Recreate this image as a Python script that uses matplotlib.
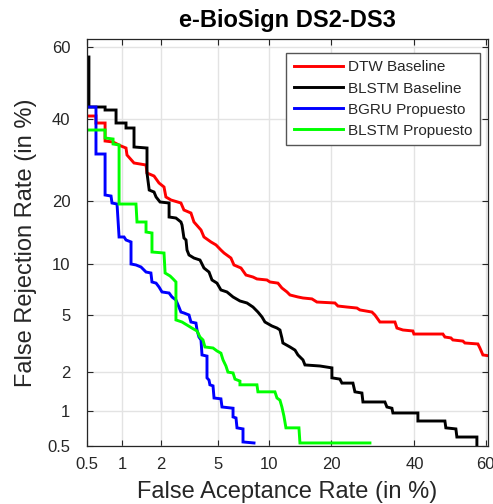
import numpy as np
import matplotlib
matplotlib.use("Agg")
import matplotlib.pyplot as plt
from matplotlib.ticker import NullLocator, FixedLocator, FixedFormatter
from statistics import NormalDist

plt.rcParams['font.family'] = ['Liberation Sans', 'DejaVu Sans']

title = "e-BioSign DS2-DS3"
xlabel = "False Aceptance Rate (in %)"
ylabel = "False Rejection Rate (in %)"
tick_values = [0.5, 1, 2, 5, 10, 20, 40, 60]
tick_labels = ["0.5", "1", "2", "5", "10", "20", "40", "60"]
series_names = ["DTW Baseline", "BLSTM Baseline", "BGRU Propuesto", "BLSTM Propuesto"]
series_colors = ["#ff0000", "#000000", "#0000ff", "#00ff00"]

dtw_far = [0.5, 0.600, 0.600, 0.719, 0.719, 0.84, 0.979, 1.075, 1.095, 1.247, 1.55, 1.577,
           1.785, 1.946, 2.12, 2.19, 2.39, 2.81, 2.95, 3.30, 3.46, 3.86, 4.04, 4.49, 4.84,
           5.20, 5.44, 6.00, 6.26, 6.90, 7.38, 8.10, 8.53, 9.69, 10.06, 11.10, 11.64, 12.36,
           12.80, 14.02, 14.83, 16.35, 17.24, 20.70, 21.31, 23.21, 25.43, 26.12, 28.96, 29.69,
           30.93, 34.78, 35.30, 36.89, 39.59, 39.87, 47.96, 48.53, 50.23, 50.79, 53.62, 54.18,
           57.82, 58.37, 59.2, 61.4, 61.9]
dtw_frr = [40.69, 40.69, 38.78, 38.78, 33.99, 33.73, 32.70, 32.19, 30.43, 28.48, 28.00, 26.12,
           25.43, 23.87, 23.0, 20.9, 20.29, 19.7, 18.35, 17.79, 16.18, 14.83, 13.71, 12.95, 12.51,
           11.78, 11.37, 10.70, 9.82, 9.45, 8.64, 8.42, 8.21, 8.10, 7.89, 7.77, 7.28, 6.90,
           6.62, 6.44, 6.35, 6.27, 6.00, 5.92, 5.67, 5.59, 5.51, 5.36, 5.20, 4.98,
           4.49, 4.49, 4.10, 3.98, 3.92, 3.74, 3.74, 3.57, 3.52, 3.41, 3.35, 3.25,
           3.20, 3.0, 2.68, 2.63, 2.47]

blstm_base_far = [0.52, 0.52, 0.719, 0.719, 0.890, 0.890, 1.075, 1.075, 1.247, 1.247, 1.577, 1.577,
                  1.64, 1.785, 1.85, 1.98, 2.31, 2.31, 2.59, 2.81, 2.86, 2.95, 3.05, 3.10, 3.20,
                  3.46, 3.80, 3.86, 4.04, 4.36, 4.56, 4.91, 5.20, 5.67, 6.18, 6.80, 7.48, 8.10,
                  8.64, 9.10, 9.45, 10.31, 10.97, 11.37, 11.64, 11.78, 12.80, 13.56, 14.02, 14.83,
                  15.16, 17.79, 20.09, 20.09, 21.72, 22.14, 24.53, 24.98, 26.58, 26.82, 32.19,
                  32.70, 33.99, 34.25, 40.97, 40.97, 48.53, 48.8, 51.64, 51.92, 57.54, 57.54]
blstm_base_frr = [57.26, 43.19, 43.19, 42.35, 42.35, 38.78, 38.78, 37.43, 37.43, 32.45, 32.19, 26.12,
                  22.35, 21.93, 20.9, 19.9, 19.7, 17.06, 16.88, 16.18, 15.66, 13.56, 13.25, 11.78, 11.10,
                  10.70, 10.44, 10.19, 9.45, 8.98, 8.10, 7.77, 7.09, 6.90, 6.44, 6.09, 5.92, 5.59,
                  5.20, 4.84, 4.49, 4.23, 4.10, 3.98, 3.52, 3.25, 3.05, 2.90, 2.68, 2.47,
                  2.27, 2.23, 2.16, 1.82, 1.78, 1.66, 1.66, 1.42, 1.39, 1.18, 1.18,
                  1.075, 1.05, 0.96, 0.96, 0.823, 0.823, 0.72, 0.705, 0.60, 0.60, 0.5]

bgru_prop_far = [0.5, 0.600, 0.600, 0.719, 0.719, 0.808, 0.823, 0.907, 0.943, 1.036, 1.075, 1.18,
                 1.18, 1.293, 1.417, 1.55, 1.69, 1.722, 1.85, 1.946, 2.048, 2.31, 2.425, 2.59, 2.72,
                 2.81, 2.95, 3.20, 3.30, 3.57, 3.63, 3.74, 3.86, 3.92, 4.23, 4.23, 4.36, 4.42, 4.63,
                 4.70, 5.20, 5.28, 6.18, 6.18, 6.44, 6.53, 7.09, 7.09, 8.21]
bgru_prop_frr = [43.19, 43.19, 30.68, 30.68, 21.31, 21.10, 19.70, 19.50, 13.71, 13.71, 13.25, 12.95,
                 9.94, 9.82, 9.57, 8.98, 8.87, 7.89, 7.77, 7.38, 6.90, 6.80, 6.44, 6.17, 5.59,
                 5.20, 5.13, 4.98, 4.49, 4.42, 3.98, 3.57, 3.41, 2.68, 2.63, 1.82, 1.75, 1.61, 1.58,
                 1.27, 1.25, 1.075, 1.05, 0.89, 0.873, 0.72, 0.705, 0.543, 0.532]

blstm_prop_far = [0.5, 0.719, 0.719, 0.84, 0.84, 0.943, 0.943, 1.293, 1.317, 1.55, 1.55, 1.722,
                  1.722, 2.12, 2.16, 2.35, 2.47, 2.59, 2.59, 2.86, 3.10, 3.35, 3.63, 3.80, 3.98,
                  4.10, 4.63, 4.91, 5.20, 5.36, 5.59, 5.75, 6.18, 6.35, 6.80, 6.80, 8.53, 8.64,
                  10.70, 10.97, 11.37, 11.64, 11.92, 12.21, 14.18, 14.34, 28.48]
blstm_prop_frr = [36.89, 36.89, 34.78, 34.51, 33.22, 32.96, 19.50, 19.50, 16.18, 16.18, 14.50, 14.34,
                  11.51, 11.37, 8.87, 8.53, 8.21, 7.89, 4.63, 4.49, 4.29, 4.10, 3.92, 3.57, 3.41,
                  3.05, 3.0, 2.86, 2.76, 2.47, 2.23, 2.01, 1.98, 1.78, 1.72, 1.61, 1.61, 1.42,
                  1.42, 1.27, 1.22, 1.075, 0.907, 0.72, 0.72, 0.532, 0.532]

series_far = [dtw_far, blstm_base_far, bgru_prop_far, blstm_prop_far]
series_frr = [dtw_frr, blstm_base_frr, bgru_prop_frr, blstm_prop_frr]

_nd = NormalDist()
_ppf = np.vectorize(_nd.inv_cdf, otypes=[float])
_cdf = np.vectorize(_nd.cdf, otypes=[float])


def probit_fwd(p):
    p = np.clip(np.asarray(p, dtype=float) / 100.0, 1e-9, 1 - 1e-9)
    return _ppf(p)


def probit_inv(d):
    return _cdf(np.asarray(d, dtype=float)) * 100.0


fig = plt.figure(figsize=(4.93, 5.04), dpi=100)
ax = fig.add_axes([87 / 493, (504 - 446) / 504, (488 - 87) / 493, (446 - 39) / 504])

for far, frr, name, col in zip(series_far, series_frr, series_names, series_colors):
    ax.plot(far, frr, color=col, lw=2.1, label=name, solid_joinstyle='miter')

ax.set_xscale('function', functions=(probit_fwd, probit_inv))
ax.set_yscale('function', functions=(probit_fwd, probit_inv))
ax.set_xlim(0.5, 60.6)
ax.set_ylim(0.5, 62.2)

for axis in (ax.xaxis, ax.yaxis):
    axis.set_major_locator(FixedLocator(tick_values))
    axis.set_major_formatter(FixedFormatter(tick_labels))
    axis.set_minor_locator(NullLocator())

dark = '#262626'
ax.tick_params(axis='both', which='major', direction='in', length=4, width=0.8,
               top=True, right=True, colors=dark, labelsize=12)
ax.tick_params(axis='x', pad=8)
ax.tick_params(axis='y', pad=12)
for s in ax.spines.values():
    s.set_color(dark)
    s.set_linewidth(0.9)

ax.grid(True, color='#e3e3e3', lw=1.0)
ax.set_axisbelow(True)

ax.set_title(title, fontsize=17, fontweight='bold', pad=9)
ax.set_xlabel(xlabel, fontsize=17, color=dark)
ax.set_ylabel(ylabel, fontsize=17, color=dark)
ax.xaxis.set_label_coords(0.5, -0.086)
ax.yaxis.set_label_coords(-0.125, 0.5)

leg = ax.legend(loc='upper right', bbox_to_anchor=(0.98, 0.966), borderaxespad=0,
                fontsize=11, handlelength=3.2, handletextpad=0.35, labelspacing=0.46,
                borderpad=0.5, frameon=True, fancybox=False, framealpha=1)
leg.get_frame().set_edgecolor('#555555')
leg.get_frame().set_linewidth(1.0)
for t in leg.get_texts():
    t.set_color(dark)

fig.savefig('out.png', dpi=100)
